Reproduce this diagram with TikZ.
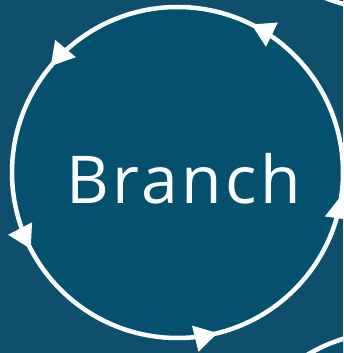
\documentclass[tikz,border=0pt]{standalone}
\usepackage{fontspec}
\setmainfont{Open Sans}
\definecolor{bgblue}{HTML}{0D4F6D}
\definecolor{discblue}{HTML}{03516F}
\tikzset{
  disc/.style={circle, draw=white, line width=4.5pt, fill=discblue, minimum size=331pt, inner sep=0pt},
  ring/.style={draw=white, line width=4.5pt, fill=discblue},
  arrowhead/.style={fill=white},
  labeltext/.style={text=white, font=\addfontfeature{LetterSpace=5}\fontsize{66}{70}\selectfont, inner sep=0pt, anchor=base}
}
\begin{document}
\begin{tikzpicture}[x=1pt,y=1pt]
\useasboundingbox (0,0) rectangle (343,353);
\clip (0,0) rectangle (343,353);
\fill[bgblue] (0,0) rectangle (343,353);
% neighbouring circles, partly visible
\coordinate (nbA) at (386,509);
\coordinate (nbB) at (392,-144);
\draw[ring] (nbA) circle (165.5);
\draw[ring] (nbB) circle (165.5);
% main circle
\node[disc] (branch) at (177.5,180.5) {};
\node[labeltext] (label) at (184,149) {Branch};
\foreach \a in {63.5,140,207.5,284,352} {
  \fill[arrowhead, shift={(branch.center)}, rotate=\a] (165.5,0) -- (152,-23) -- (179,-23) -- cycle;
}
\end{tikzpicture}
\end{document}
